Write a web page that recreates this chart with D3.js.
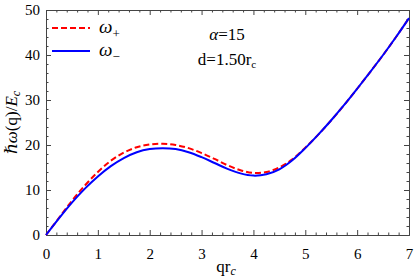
<!DOCTYPE html>
<html>
<head>
<meta charset="utf-8">
<script src="https://cdn.jsdelivr.net/npm/d3@7"></script>
<style>
  body { margin: 0; background: #fff; }
  svg { display: block; font-family: "Liberation Serif", "DejaVu Serif", serif; }
</style>
</head>
<body>
<svg id="chart" width="415" height="280"></svg>
<script>
// q r_c sample points
var qValues = [0, 0.25, 0.5, 0.75, 1.0, 1.25, 1.5, 1.75, 2.0, 2.25, 2.5, 2.75, 3.0, 3.25, 3.5,
  3.75, 4.0, 4.25, 4.5, 4.75, 5.0, 5.25, 5.5, 5.75, 6.0, 6.25, 6.5, 6.75, 7.0];

// omega minus (blue, solid)
var omegaMinus = [0, 3.7, 7.2, 10.3, 13.0, 15.3, 17.1, 18.4, 19.1, 19.3, 19.1, 18.4, 17.3, 16.0, 14.7,
  13.7, 13.2, 13.5, 14.6, 16.6, 19.3, 22.3, 25.5, 28.9, 32.5, 36.2, 40.0, 44.0, 48.2];

// omega plus (red, dashed)
var omegaPlus = [0, 3.8, 7.6, 11.0, 14.0, 16.5, 18.3, 19.5, 20.1, 20.3, 20.0, 19.3, 18.2, 16.9, 15.5,
  14.4, 13.8, 14.0, 15.0, 16.8, 19.4, 22.3, 25.5, 28.9, 32.5, 36.2, 40.0, 44.0, 48.2];

var xTicks = [0, 1, 2, 3, 4, 5, 6, 7];
var yTicks = [0, 10, 20, 30, 40, 50];

var margin = {top: 10, right: 6, bottom: 45, left: 46};
var width = 415, height = 280;

var svg = d3.select("#chart");

var x = d3.scaleLinear().domain([0, 7]).range([margin.left, width - margin.right]);
var y = d3.scaleLinear().domain([0, 50]).range([height - margin.bottom, margin.top]);

var frameColor = "#444";

// minor ticks
var xMinor = d3.range(0, 7.001, 0.2).filter(function(v) { return Math.abs(v - Math.round(v)) > 1e-6; });
var yMinor = d3.range(0, 50.001, 2).filter(function(v) { return v % 10 !== 0; });

function frameAxis(axisFn, scale, major, minor, translate, labels) {
  var gMaj = svg.append("g").attr("transform", translate)
    .call(axisFn(scale).tickValues(major).tickSizeInner(-5).tickSizeOuter(0)
      .tickPadding(8).tickFormat(labels ? d3.format("d") : ""));
  var gMin = svg.append("g").attr("transform", translate)
    .call(axisFn(scale).tickValues(minor).tickSizeInner(-2.5).tickSizeOuter(0).tickFormat(""));
  [gMaj, gMin].forEach(function(g) {
    g.select(".domain").attr("stroke", frameColor).attr("stroke-width", 1);
    g.selectAll(".tick line").attr("stroke", frameColor);
    g.selectAll("text").attr("fill", "#000").style("font-size", "15px")
      .style("font-family", "'Liberation Serif', serif");
  });
  return gMaj;
}

frameAxis(d3.axisBottom, x, xTicks, xMinor, "translate(0," + y(0) + ")", true)
  .selectAll("text").attr("dy", "1.05em");
frameAxis(d3.axisTop, x, xTicks, xMinor, "translate(0," + y(50) + ")", false);
frameAxis(d3.axisLeft, y, yTicks, yMinor, "translate(" + x(0) + ",0)", true)
  .selectAll("text").attr("dx", "2");
frameAxis(d3.axisRight, y, yTicks, yMinor, "translate(" + x(7) + ",0)", false);

// curves
var line = function(vals) {
  return d3.line()
    .x(function(d, i) { return x(qValues[i]); })
    .y(function(d) { return y(d); })
    .curve(d3.curveCatmullRom.alpha(0.5))(vals);
};

svg.append("path")
  .attr("d", line(omegaPlus))
  .attr("fill", "none")
  .attr("stroke", "#ff0000")
  .attr("stroke-width", 2)
  .attr("stroke-dasharray", "6,3");

svg.append("path")
  .attr("d", line(omegaMinus))
  .attr("fill", "none")
  .attr("stroke", "#0000ff")
  .attr("stroke-width", 2);

// legend
var legend = [
  {name: "+", color: "#ff0000", dash: "6,3", yy: 28},
  {name: "\u2212", color: "#0000ff", dash: null, yy: 51}
];
legend.forEach(function(d) {
  svg.append("line")
    .attr("x1", 52).attr("x2", 90).attr("y1", d.yy).attr("y2", d.yy)
    .attr("stroke", d.color).attr("stroke-width", 2)
    .attr("stroke-dasharray", d.dash);
  var t = svg.append("text").attr("x", 99).attr("y", d.yy + 5)
    .style("font-size", "19px");
  t.append("tspan").style("font-style", "italic").text("\u03c9");
  t.append("tspan").attr("dy", 5).style("font-size", "13px").text(d.name);
});

// annotations
var a1 = svg.append("text").attr("x", 227).attr("y", 40).attr("text-anchor", "middle")
  .style("font-size", "17px");
a1.append("tspan").style("font-style", "italic").text("\u03b1");
a1.append("tspan").text("=15");

var a2 = svg.append("text").attr("x", 227).attr("y", 65).attr("text-anchor", "middle")
  .style("font-size", "17px");
a2.append("tspan").text("d=1.50r");
a2.append("tspan").attr("dy", 3).style("font-size", "11px").text("c");

// x label
var xl = svg.append("text").attr("x", 226).attr("y", 272).attr("text-anchor", "middle")
  .style("font-size", "17px");
xl.append("tspan").text("qr");
xl.append("tspan").attr("dy", 3).style("font-size", "12px").style("font-style", "italic").text("c");

// y label
var yl = svg.append("text")
  .attr("transform", "translate(17," + ((y(0) + y(50)) / 2) + ") rotate(-90)")
  .attr("text-anchor", "middle")
  .style("font-size", "17px");
yl.append("tspan").style("font-style", "italic").text("\u210f\u03c9");
yl.append("tspan").text("(q)/");
yl.append("tspan").style("font-style", "italic").text("E");
yl.append("tspan").attr("dy", 3).style("font-size", "12px").style("font-style", "italic").text("c");
</script>
</body>
</html>
